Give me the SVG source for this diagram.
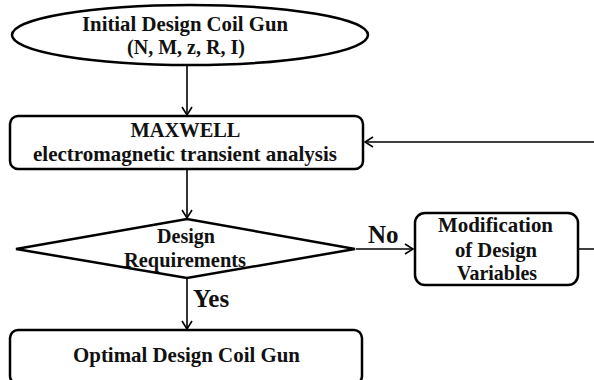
<svg xmlns="http://www.w3.org/2000/svg" width="594" height="380" viewBox="0 0 594 380">
<style>
.shape{fill:#fff;stroke:#000;stroke-width:2.5}
.t{font-family:'Liberation Serif','Times New Roman','DejaVu Serif',serif;font-weight:bold;font-size:21px;fill:#111;text-anchor:middle}
.s{font-size:20px}
.lbl{font-family:'Liberation Serif','Times New Roman','DejaVu Serif',serif;font-weight:bold;font-size:25px;fill:#111}
.c{fill:none;stroke:#000;stroke-width:1.6}
</style>
<defs>
<marker id="arr" markerWidth="12" markerHeight="12" refX="10" refY="6" orient="auto" markerUnits="userSpaceOnUse">
<path d="M2,1 L10,6 L2,11" fill="none" stroke="#000" stroke-width="1.6"/>
</marker>
</defs>
<rect width="594" height="380" fill="#fff"/>
<g id="connectors">
<path class="c" d="M187,66 V115" marker-end="url(#arr)"/>
<path class="c" d="M187,170 V218" marker-end="url(#arr)"/>
<path class="c" d="M356,249 H413" marker-end="url(#arr)"/>
<path class="c" d="M187,279 V329" marker-end="url(#arr)"/>
<path class="c" d="M579,249 H610 V142 H365" marker-end="url(#arr)"/>
</g>
<g id="start">
<ellipse class="shape" cx="190" cy="35" rx="178" ry="30"/>
<text class="t s" x="185" y="31" textLength="206" lengthAdjust="spacingAndGlyphs">Initial Design Coil Gun</text>
<text class="t s" x="186" y="54" textLength="118" lengthAdjust="spacingAndGlyphs">(N, M, z, R, I)</text>
</g>
<g id="maxwell">
<rect class="shape" x="10" y="116" width="353" height="53" rx="8"/>
<text class="t" x="185.5" y="137" textLength="110" lengthAdjust="spacingAndGlyphs">MAXWELL</text>
<text class="t" x="185" y="161" textLength="304" lengthAdjust="spacingAndGlyphs">electromagnetic transient analysis</text>
</g>
<g id="decision">
<polygon class="shape" points="16,249 187,219 355,249 187,278"/>
<text class="t" x="186" y="243" textLength="58" lengthAdjust="spacingAndGlyphs">Design</text>
<text class="t" x="185" y="267" textLength="122" lengthAdjust="spacingAndGlyphs">Requirements</text>
</g>
<g id="modify">
<rect class="shape" x="415" y="213" width="163" height="72" rx="10"/>
<text class="t" x="495.5" y="232" textLength="115" lengthAdjust="spacingAndGlyphs">Modification</text>
<text class="t" x="496" y="257" textLength="82" lengthAdjust="spacingAndGlyphs">of Design</text>
<text class="t" x="497" y="280" textLength="80" lengthAdjust="spacingAndGlyphs">Variables</text>
</g>
<g id="optimal">
<rect class="shape" x="10" y="330" width="352" height="54" rx="8"/>
<text class="t" x="186.5" y="362" textLength="227" lengthAdjust="spacingAndGlyphs">Optimal Design Coil Gun</text>
</g>
<g id="labels">
<text class="lbl" x="368" y="243">No</text>
<text class="lbl" x="193" y="307">Yes</text>
</g>
</svg>
